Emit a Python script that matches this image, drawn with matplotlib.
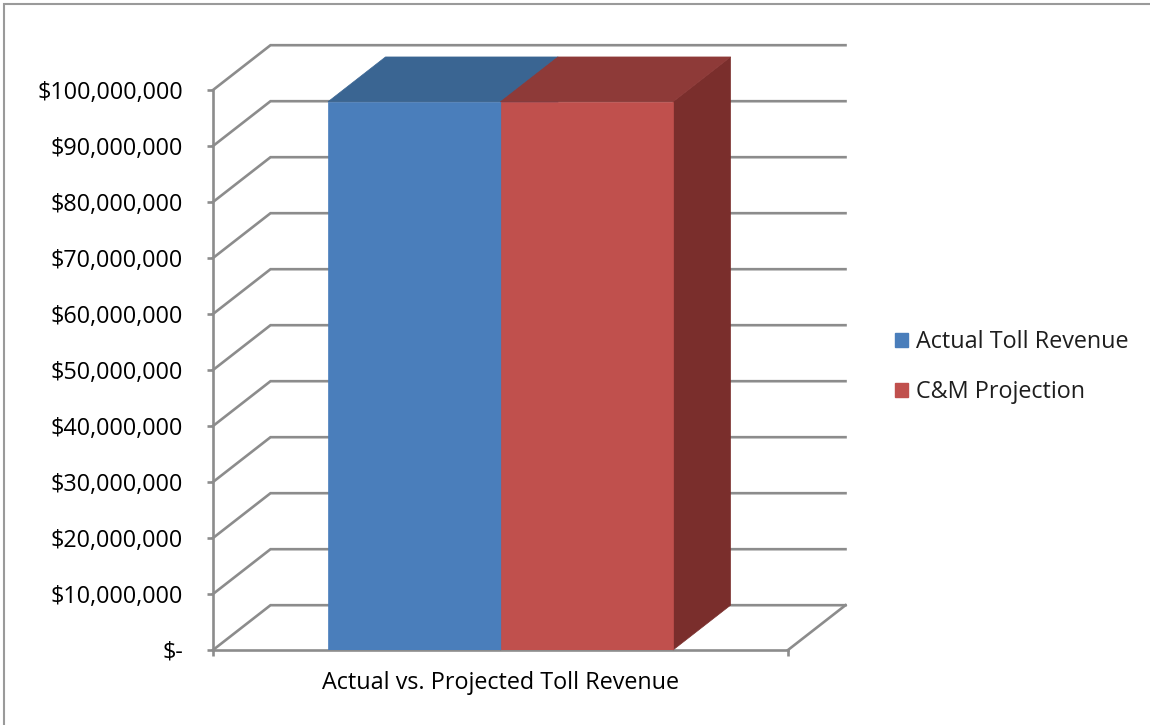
import matplotlib
matplotlib.use('Agg')
import matplotlib.pyplot as plt
from matplotlib.patches import Polygon, Patch, Rectangle
from matplotlib.ticker import FuncFormatter, MultipleLocator

# data
category = 'Actual vs. Projected Toll Revenue'
series = ['Actual Toll Revenue', 'C&M Projection']
values = [97900000, 97900000]

front_colors = ['#4a7ebb', '#c0504d']
top_colors = ['#3a6592', '#8e3a38']
side_colors = ['#34587f', '#7a2e2c']
grid_col = '#8c8c8c'

plt.rcParams['font.family'] = ['Open Sans', 'DejaVu Sans']
plt.rcParams['text.color'] = '#1e1e1e'
fs = 16.8

fig = plt.figure(figsize=(11.5, 7.25), dpi=100)
ax = fig.add_axes([213 / 1150, 75 / 725, 575 / 1150, 560 / 725])
ax.set_xlim(0, 1)
ax.set_ylim(0, 100000000)

# depth of the fake 3d box, in data units
dx, dy = 0.1, 8000000

# side wall + back wall gridlines
for v in range(0, 100000001, 10000000):
    ax.plot([0, dx, 1 + dx], [v, v + dy, v + dy], color=grid_col, lw=1.9,
            clip_on=False, zorder=1, solid_joinstyle='miter')
# floor right edge
ax.plot([1, 1 + dx], [0, dy], color=grid_col, lw=1.9, clip_on=False, zorder=1)

# bars
w = 0.3
x_pos = [0.35, 0.65]
for x, v, fc, tc, sc in zip(x_pos, values, front_colors, top_colors, side_colors):
    x0, x1 = x - w / 2, x + w / 2
    ax.add_patch(Polygon([(x1, 0), (x1, v), (x1 + dx, v + dy), (x1 + dx, dy)],
                         closed=True, fc=sc, ec=sc, lw=0.5, clip_on=False, zorder=2))
    ax.add_patch(Polygon([(x0, v), (x1, v), (x1 + dx, v + dy), (x0 + dx, v + dy)],
                         closed=True, fc=tc, ec=tc, lw=0.5, clip_on=False, zorder=2.5))
ax.bar(x_pos, values, width=w, color=front_colors, edgecolor=front_colors,
       lw=0.5, zorder=3)

# axes styling
for s in ['top', 'right']:
    ax.spines[s].set_visible(False)
for s in ['left', 'bottom']:
    ax.spines[s].set_color(grid_col)
    ax.spines[s].set_linewidth(1.9)
    ax.spines[s].set_zorder(1)
ax.patch.set_visible(False)

ax.yaxis.set_major_locator(MultipleLocator(10000000))
ax.yaxis.set_major_formatter(FuncFormatter(lambda v, p: '$-' if v == 0 else '${:,.0f}'.format(v)))
ax.tick_params(axis='y', length=4.5, width=1.9, color=grid_col, pad=17, labelsize=fs)

ax.set_xticks([0.5], labels=[category])
ax.set_xticks([0, 1], minor=True)
ax.tick_params(axis='x', which='major', length=0, pad=15, labelsize=fs)
ax.tick_params(axis='x', which='minor', length=4.5, width=1.9, color=grid_col)

handles = [Patch(color=c) for c in front_colors]
ax.legend(handles, series, loc='center left', bbox_to_anchor=(895 / 1150, 1 - 367 / 725),
          bbox_transform=fig.transFigure, frameon=False, fontsize=fs,
          handlelength=0.55, handleheight=0.55, handletextpad=0.35, labelspacing=1.1,
          borderpad=0, borderaxespad=0)

# outer chart border
fig.patches.append(Rectangle((4 / 1150, -0.1), 1.2, 1.1 - 4 / 725, transform=fig.transFigure,
                             fill=False, ec='#9a9a9a', lw=1.5))

fig.savefig('out.png', dpi=100)
